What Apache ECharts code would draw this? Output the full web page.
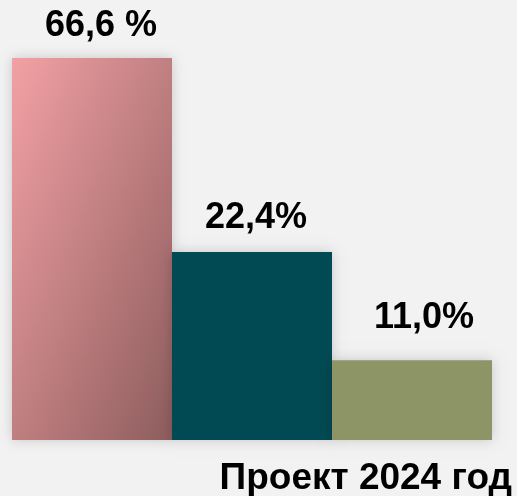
<!DOCTYPE html>
<html>
<head>
<meta charset="utf-8">
<script src="https://cdn.jsdelivr.net/npm/echarts@6/dist/echarts.min.js"></script>
<style>
  html, body { margin: 0; padding: 0; background: #f2f2f2; }
  #main { width: 517px; height: 496px; }
</style>
</head>
<body>
<div id="main"></div>
<script>
// bar heights (relative, tallest = 100)
var categories = ["A", "B", "C"];
var barValues = [100, 49.2, 20.9];
var valueLabels = ["66,6 %", "22,4%", "11,0%"];
var caption = "Проект 2024 год";

// label placement tweaks per bar
var labelDx = [9, 4, 12];
var labelGap = [14, 16, 24];

var barColors = [
  new echarts.graphic.LinearGradient(0, 0, 1.7, 0.3, [
    { offset: 0, color: "#f2a1a4" },
    { offset: 1, color: "#8e5d5e" }
  ]),
  "#024a53",
  "#8d9566"
];

var chart = echarts.init(document.getElementById("main"));

var option = {
  backgroundColor: "#f2f2f2",
  animation: false,
  title: {
    text: caption,
    right: 0,
    top: 455,
    textStyle: {
      fontFamily: "Liberation Sans, Arial, sans-serif",
      fontWeight: "bold",
      fontSize: 37,
      color: "#000"
    }
  },
  grid: { left: 12, right: 25, top: 58, bottom: 56 },
  xAxis: {
    type: "category",
    data: categories,
    show: false
  },
  yAxis: {
    type: "value",
    min: 0,
    max: 100,
    show: false
  },
  series: [{
    type: "bar",
    barCategoryGap: 0,
    data: barValues.map(function (v, i) {
      return {
        value: v,
        itemStyle: { color: barColors[i] },
        label: {
          formatter: valueLabels[i],
          offset: [labelDx[i], 0],
          distance: labelGap[i]
        }
      };
    }),
    itemStyle: {
      shadowBlur: 12,
      shadowColor: "rgba(0,0,0,0.18)"
    },
    label: {
      show: true,
      position: "top",
      fontFamily: "Liberation Sans, Arial, sans-serif",
      fontWeight: "bold",
      fontSize: 36,
      color: "#000"
    }
  }]
};

chart.setOption(option);
</script>
</body>
</html>
